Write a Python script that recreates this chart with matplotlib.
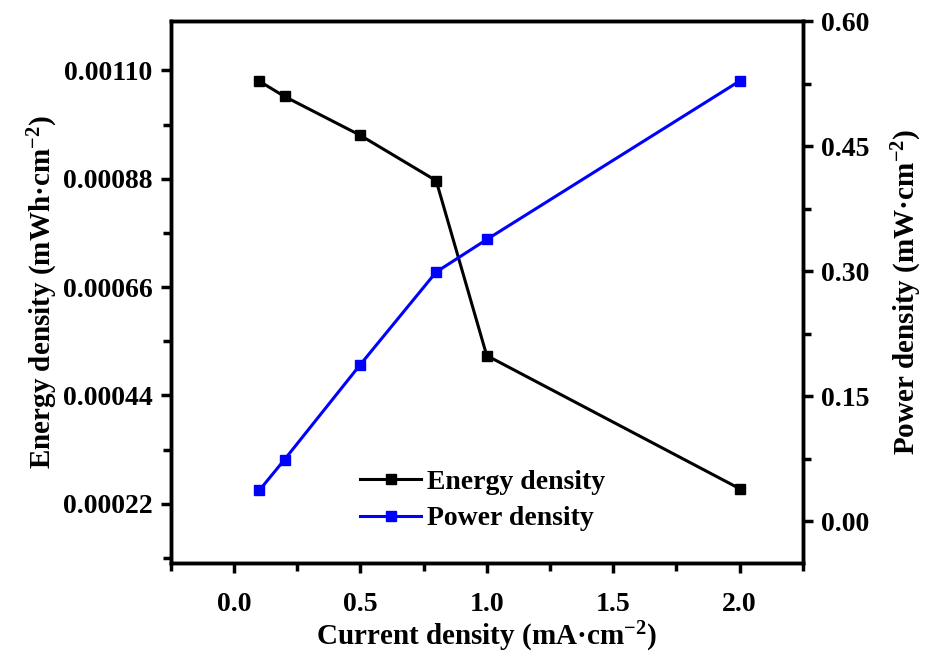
import matplotlib
matplotlib.use("Agg")
import matplotlib.pyplot as plt
from matplotlib.ticker import MultipleLocator, FormatStrFormatter

current = [0.1, 0.2, 0.5, 0.8, 1.0, 2.0]
energy = [0.001078, 0.001047, 0.000968, 0.000876, 0.000521, 0.000251]
power = [0.037, 0.074, 0.188, 0.299, 0.338, 0.528]

plt.rcParams['font.family'] = ['Liberation Serif', 'DejaVu Serif']
plt.rcParams['font.weight'] = 'bold'
plt.rcParams['mathtext.default'] = 'regular'

fig = plt.figure(figsize=(9.28, 6.58), dpi=100)
ax = fig.add_axes([0.184, 0.1444, 0.681, 0.8236])
ax2 = ax.twinx()

l1, = ax.plot(current, energy, color='black', lw=2.2, marker='s', ms=7, label='Energy density')
l2, = ax2.plot(current, power, color='#0000ff', lw=2.2, marker='s', ms=7, label='Power density')

ax.set_xlim(-0.25, 2.25)
ax.set_ylim(0.0001, 0.0012)
ax2.set_ylim(-0.05, 0.60)

ax.xaxis.set_major_locator(MultipleLocator(0.5))
ax.xaxis.set_minor_locator(MultipleLocator(0.25))
ax.yaxis.set_major_locator(MultipleLocator(0.00022))
ax.yaxis.set_minor_locator(MultipleLocator(0.00011))
ax2.yaxis.set_major_locator(MultipleLocator(0.15))
ax2.yaxis.set_minor_locator(MultipleLocator(0.075))
ax.xaxis.set_major_formatter(FormatStrFormatter('%.1f'))
ax.yaxis.set_major_formatter(FormatStrFormatter('%.5f'))
ax2.yaxis.set_major_formatter(FormatStrFormatter('%.2f'))

for a in (ax, ax2):
    for s in a.spines.values():
        s.set_linewidth(2.5)
    a.tick_params(which='major', direction='out', length=7, width=2.5, labelsize=20, pad=6)
    a.tick_params(which='minor', direction='out', length=6, width=2.5)
    for lab in a.get_xticklabels() + a.get_yticklabels():
        lab.set_fontweight('bold')
ax.tick_params(axis='x', pad=14)

ax.set_xlabel('Current density (mA·cm$^{-2}$)', fontsize=21, fontweight='bold', labelpad=2)
ax.set_ylabel('Energy density (mWh·cm$^{-2}$)', fontsize=21, fontweight='bold', labelpad=2)
ax2.set_ylabel('Power density (mW·cm$^{-2}$)', fontsize=21, fontweight='bold', labelpad=15)

leg = ax.legend(handles=[l1, l2], loc='lower left', bbox_to_anchor=(0.26, 0.012),
                frameon=False, handlelength=2.2, handletextpad=0.2,
                labelspacing=0.4, prop={'weight': 'bold', 'size': 20})

fig.savefig('out.png', dpi=100)
